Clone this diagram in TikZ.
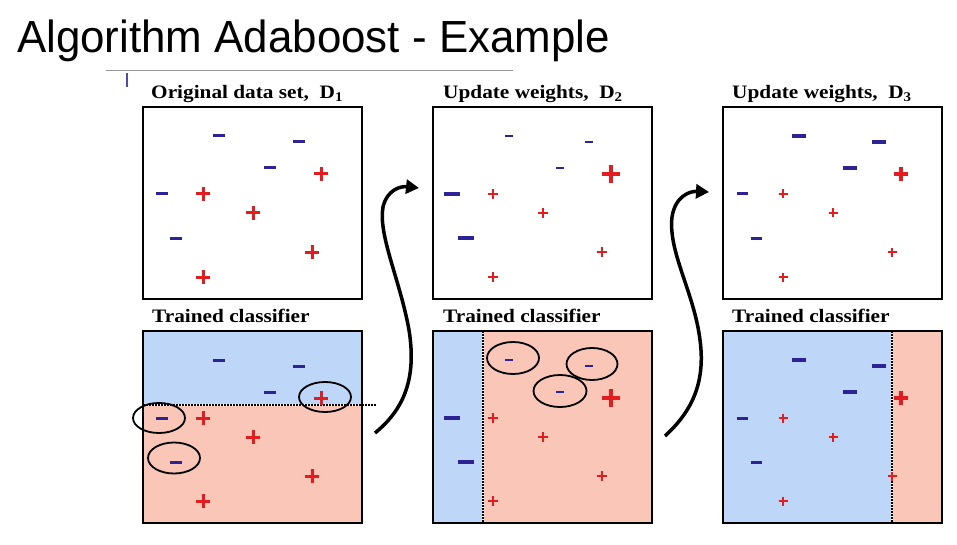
\documentclass[tikz,border=0pt]{standalone}
\usepackage{fontspec}
\setmainfont{Liberation Serif}
\newfontfamily\titlefont{Liberation Sans}
\usetikzlibrary{arrows.meta}
\definecolor{mcol}{RGB}{45,35,150}
\definecolor{pcol}{RGB}{228,28,32}
\definecolor{bfill}{RGB}{190,214,248}
\definecolor{rfill}{RGB}{249,198,184}
\newcommand\mns[4]{\draw[mcol,line width=#4pt] ({#1-#3/2},#2) -- ({#1+#3/2},#2);}
\newcommand\pls[4]{\draw[pcol,line width=#4pt] ({#1-#3/2},#2) -- ({#1+#3/2},#2) ({#1},{#2-#3/2}) -- ({#1},{#2+#3/2});}
\newcommand\pts[8]{%
 \mns{76}{29}{#1}{#2}\mns{156}{35}{#1}{#2}\mns{127}{61}{#1}{#2}%
 \mns{19}{87}{#3}{#4}\mns{33}{131}{#3}{#4}%
 \pls{178}{67}{#5}{#6}%
 \pls{60}{87}{#7}{#8}\pls{110}{106}{#7}{#8}\pls{169}{145}{#7}{#8}\pls{60}{170}{#7}{#8}}
\tikzset{
 panel/.style={draw=black,line width=2.5pt},
 lab/.style={font=\bfseries\fontsize{19}{19}\selectfont,anchor=base west,inner sep=0pt,xscale=1.12},
 ell/.style={draw=black,line width=1.8pt},
 sepw/.style={white,line width=2.5pt},
 sepd/.style={black,line width=1.5pt,dash pattern=on 1.5pt off 1.5pt},
 curvearrow/.style={black,line width=3.5pt,-{Triangle[length=13pt,width=14pt]}}
}
\begin{document}
\begin{tikzpicture}[x=1pt,y=-1pt]
\useasboundingbox[fill=white] (0,0) rectangle (957,545);
% title
\node[anchor=base west,inner sep=0pt,font=\titlefont\fontsize{45}{45}\selectfont,xscale=0.975] (title) at (17,53) {Algorithm Adaboost - Example};
\draw[black!40,line width=1pt] (106,71) -- (513,71);
\draw[blue!55!black!70,line width=1.5pt] (127,73) -- (127,87);
% labels
\node[lab] (l1) at (151,99) {Original data set,\ \ D\textsubscript{1}};
\node[lab] (l2) at (443,99) {Update weights,\ \ D\textsubscript{2}};
\node[lab] (l3) at (732,99) {Update weights,\ \ D\textsubscript{3}};
\node[lab] (t1) at (152,322) {Trained classifier};
\node[lab] (t2) at (443,322) {Trained classifier};
\node[lab] (t3) at (732,322) {Trained classifier};
% panel 1 top
\begin{scope}[shift={(143,107)}]
 \pts{12}{3}{12}{3}{14}{3}{14}{3}
\end{scope}
\draw[panel] (143,107) rectangle (362,299);
% panel 1 bottom
\fill[bfill] (143,331) rectangle (362,405);
\fill[rfill] (143,405) rectangle (362,523);
\draw[sepw] (143,405) -- (376,405);
\draw[sepd] (143,405) -- (376,405);
\begin{scope}[shift={(143,331)}]
 \pts{12}{3}{12}{3}{14}{3}{14}{3}
\end{scope}
\draw[ell] (325,397) ellipse [x radius=26pt, y radius=15pt];
\draw[ell] (159,418) ellipse [x radius=26pt, y radius=15pt];
\draw[ell] (174,458) ellipse [x radius=26pt, y radius=15.5pt];
\draw[panel] (143,331) rectangle (362,523);
% panel 2 top
\begin{scope}[shift={(433,107)}]
 \pts{8}{2}{16}{4}{18}{4}{10}{2.5}
\end{scope}
\draw[panel] (433,107) rectangle (652,299);
% panel 2 bottom
\fill[bfill] (433,331) rectangle (483,523);
\fill[rfill] (483,331) rectangle (652,523);
\draw[sepw] (483,331) -- (483,523);
\draw[sepd] (483,331) -- (483,523);
\begin{scope}[shift={(433,331)}]
 \pts{8}{2}{16}{4}{18}{4}{10}{2.5}
\end{scope}
\draw[ell] (513,358) ellipse [x radius=26pt, y radius=16pt];
\draw[ell] (592,364) ellipse [x radius=25.5pt, y radius=16pt];
\draw[ell] (560,391) ellipse [x radius=26.5pt, y radius=16pt];
\draw[panel] (433,331) rectangle (652,523);
% panel 3 top
\begin{scope}[shift={(723,107)}]
 \pts{14}{3.5}{11}{3}{14}{3.5}{9}{2.5}
\end{scope}
\draw[panel] (723,107) rectangle (942,299);
% panel 3 bottom
\fill[bfill] (723,331) rectangle (892,523);
\fill[rfill] (892,331) rectangle (942,523);
\draw[sepw] (892,331) -- (892,523);
\draw[sepd] (892,331) -- (892,523);
\begin{scope}[shift={(723,331)}]
 \pts{14}{3.5}{11}{3}{14}{3.5}{9}{2.5}
\end{scope}
\draw[panel] (723,331) rectangle (942,523);
% arrows
\draw[curvearrow] (375,433) .. controls (403,410) and (417,380) .. (409,330) .. controls (400,280) and (378,235) .. (383,207) .. controls (387,190) and (400,186) .. (419,188);
\draw[curvearrow] (665,436) .. controls (690,413) and (706,385) .. (700,340) .. controls (694,292) and (668,252) .. (672,217) .. controls (675,197) and (689,191) .. (709,192);
\end{tikzpicture}
\end{document}
